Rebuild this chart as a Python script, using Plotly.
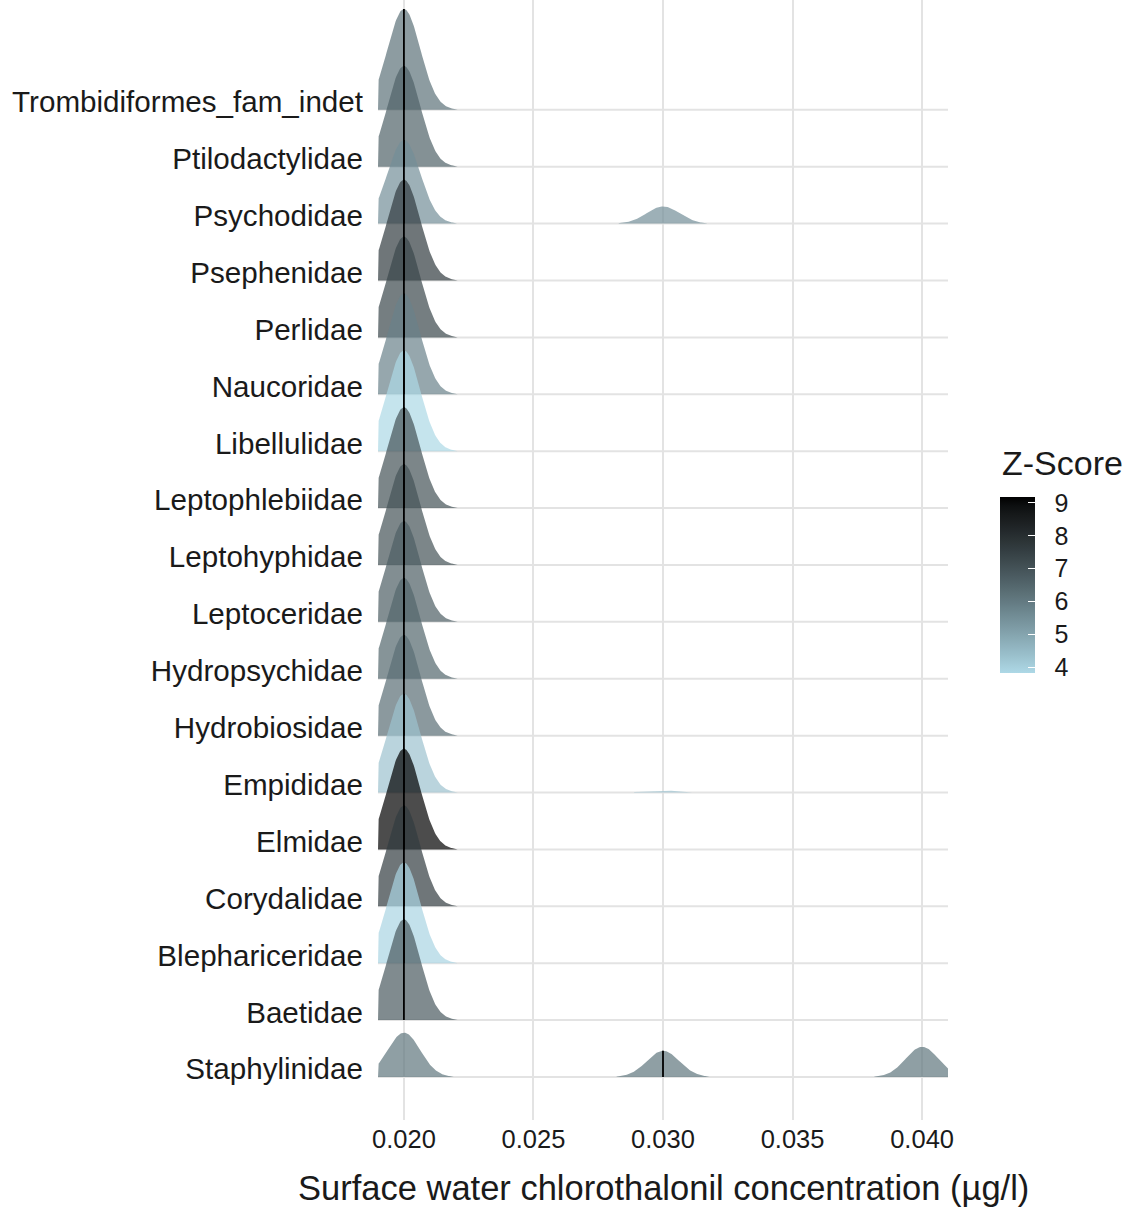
import numpy as np
import plotly.graph_objects as go

# ---------------- data ----------------
families = ["Staphylinidae", "Baetidae", "Blephariceridae", "Corydalidae", "Elmidae",
            "Empididae", "Hydrobiosidae", "Hydropsychidae", "Leptoceridae", "Leptohyphidae",
            "Leptophlebiidae", "Libellulidae", "Naucoridae", "Perlidae", "Psephenidae",
            "Psychodidae", "Ptilodactylidae", "Trombidiformes_fam_indet"]
z_scores = [6.1, 6.8, 3.9, 7.6, 9.18, 4.3, 6.3, 6.5, 6.7, 7.0,
            7.0, 3.82, 5.8, 7.3, 7.6, 5.5, 6.6, 6.2]
conc_levels = [0.02, 0.03, 0.04]
share_020 = [0.44, 1, 1, 1, 1, 0.98, 1, 1, 1, 1, 1, 1, 1, 1, 1, 0.83, 1, 1]
share_030 = [0.26, 0, 0, 0, 0, 0.02, 0, 0, 0, 0, 0, 0, 0, 0, 0, 0.17, 0, 0]
share_040 = [0.30, 0, 0, 0, 0, 0, 0, 0, 0, 0, 0, 0, 0, 0, 0, 0, 0, 0]
x_ticks = [0.020, 0.025, 0.030, 0.035, 0.040]
z_ticks = [4, 5, 6, 7, 8, 9]

# ---------------- style ----------------
X_MIN, X_MAX = 0.019, 0.041
BANDWIDTH = 0.00063
PEAK_HEIGHT = 1.77
ALPHA = 0.7
LOW = (173, 216, 230)   # lightblue
HIGH = (0, 0, 0)        # black
FONT = "Liberation Sans, Arial, sans-serif"
TXT = "#1a1a1a"

# Lab interpolation (like ggplot's gradient)
M = np.array([[0.4124564, 0.3575761, 0.1804375],
              [0.2126729, 0.7151522, 0.0721750],
              [0.0193339, 0.1191920, 0.9503041]])
Minv = np.linalg.inv(M)
WHITE = np.array([0.95047, 1.0, 1.08883])


def rgb_to_lab(rgb):
    c = np.array(rgb) / 255.0
    lin = np.where(c <= 0.04045, c / 12.92, ((c + 0.055) / 1.055) ** 2.4)
    xyz = M @ lin / WHITE
    f = np.where(xyz > 216 / 24389, np.cbrt(xyz), (24389 / 27 * xyz + 16) / 116)
    return np.array([116 * f[1] - 16, 500 * (f[0] - f[1]), 200 * (f[1] - f[2])])


def lab_to_rgb(lab):
    L, a, b = lab
    fy = (L + 16) / 116
    fx = fy + a / 500
    fz = fy - b / 200
    f = np.array([fx, fy, fz])
    xyz = np.where(f ** 3 > 216 / 24389, f ** 3, (116 * f - 16) / (24389 / 27)) * WHITE
    lin = np.clip(Minv @ xyz, 0, 1)
    c = np.where(lin <= 0.0031308, 12.92 * lin, 1.055 * lin ** (1 / 2.4) - 0.055)
    return tuple(int(round(v * 255)) for v in np.clip(c, 0, 1))


LAB_LOW, LAB_HIGH = rgb_to_lab(LOW), rgb_to_lab(HIGH)
zmin, zmax = min(z_scores), max(z_scores)


def z_color(z):
    t = (z - zmin) / (zmax - zmin)
    return lab_to_rgb(LAB_LOW + t * (LAB_HIGH - LAB_LOW))


colorscale = []
for t in np.linspace(0, 1, 21):
    r, g, b = lab_to_rgb(LAB_LOW + t * (LAB_HIGH - LAB_LOW))
    colorscale.append([float(t), f"rgb({r},{g},{b})"])

# ---------------- densities ----------------
xs = np.linspace(X_MIN, X_MAX, 881)
shares = np.array([share_020, share_030, share_040]).T
dens = []
for row in shares:
    d = np.zeros_like(xs)
    for w, c in zip(row, conc_levels):
        d += w * np.exp(-0.5 * ((xs - c) / BANDWIDTH) ** 2)
    dens.append(d)
gmax = max(d.max() for d in dens)


def ridge_polygon(i, d):
    """closed polygons over the x-stretches where the ridge is visible"""
    mask = d / gmax > 0.004
    px, py = [], []
    k = 0
    while k < len(xs):
        if mask[k]:
            j = k
            while j + 1 < len(xs) and mask[j + 1]:
                j += 1
            seg_x = xs[k:j + 1]
            seg_y = i + PEAK_HEIGHT * d[k:j + 1] / gmax
            px += [seg_x[0]] + list(seg_x) + [seg_x[-1], seg_x[0], None]
            py += [i] + list(seg_y) + [i, i, None]
            k = j + 1
        else:
            k += 1
    return px, py


fig = go.Figure()
n = len(families)
for i in reversed(range(n)):
    px, py = ridge_polygon(i, dens[i])
    r, g, b = z_color(z_scores[i])
    fig.add_trace(go.Scatter(
        x=px, y=py, fill="toself", mode="lines", line=dict(width=0),
        fillcolor=f"rgba({r},{g},{b},{ALPHA})",
        hoverinfo="skip", showlegend=False))

# median lines
for i in range(n):
    row = shares[i]
    cum = np.cumsum(row) / row.sum()
    med = conc_levels[int(np.searchsorted(cum, 0.5))]
    h = sum(w * np.exp(-0.5 * ((med - c) / BANDWIDTH) ** 2) for w, c in zip(row, conc_levels))
    fig.add_trace(go.Scatter(x=[med, med], y=[i, i + PEAK_HEIGHT * h / gmax],
                             mode="lines", line=dict(color="black", width=1.8),
                             hoverinfo="skip", showlegend=False))

# colorbar (labels) + overlay colorbar (white inside ticks)
cb_common = dict(thicknessmode="pixels", thickness=35,
                 lenmode="pixels", len=176,
                 x=(1000 - 378) / 570, xanchor="left", xpad=0,
                 y=(1120 - 585) / 1120, yanchor="middle", ypad=0,
                 outlinewidth=0, tickvals=z_ticks)
fig.add_trace(go.Scatter(
    x=[0.03] * n, y=[0] * n, mode="markers",
    marker=dict(size=0.1, opacity=0, color=z_scores, colorscale=colorscale,
                cmin=zmin, cmax=zmax, showscale=True,
                colorbar=dict(**cb_common, ticks="outside", ticklen=15,
                              tickcolor="rgba(0,0,0,0)",
                              tickfont=dict(size=25, color=TXT, family=FONT))),
    hoverinfo="skip", showlegend=False))
fig.add_trace(go.Scatter(
    x=[0.03] * n, y=[0] * n, mode="markers",
    marker=dict(size=0.1, opacity=0, color=z_scores, colorscale=colorscale,
                cmin=zmin, cmax=zmax, showscale=True,
                colorbar=dict(**cb_common, ticks="inside", ticklen=7,
                              tickcolor="white", tickwidth=1.2,
                              showticklabels=False)),
    hoverinfo="skip", showlegend=False))

# horizontal baseline gridlines
shapes = [dict(type="line", xref="x", yref="y", x0=X_MIN, x1=X_MAX, y0=i, y1=i,
               line=dict(color="#e3e3e3", width=2), layer="below") for i in range(n)]

fig.update_layout(
    width=1130, height=1208,
    margin=dict(l=378, r=182, t=0, b=88),
    paper_bgcolor="white", plot_bgcolor="white",
    shapes=shapes,
    font=dict(family=FONT, color=TXT),
    xaxis=dict(range=[X_MIN, X_MAX], tickvals=x_ticks, tickformat=".3f",
               showgrid=True, gridcolor="#e3e3e3", gridwidth=2,
               zeroline=False, showline=False, ticks="",
               ticklabelstandoff=1,
               tickfont=dict(size=25.5, color=TXT)),
    yaxis=dict(range=[-0.756, 18.93], tickvals=[i + 0.14 for i in range(n)],
               ticktext=families, showgrid=False, zeroline=False, showline=False,
               ticks="", ticklabelstandoff=14,
               tickfont=dict(size=29.6, color=TXT)),
    annotations=[
        dict(text="Surface water chlorothalonil concentration (µg/l)",
             xref="paper", yref="paper", x=0.5, y=(1120 - 1188) / 1120,
             xanchor="center", yanchor="middle", showarrow=False,
             font=dict(size=34.5, color=TXT)),
        dict(text="Z-Score", xref="paper", yref="paper",
             x=(1000 - 378) / 570, y=(1120 - 463) / 1120,
             xanchor="left", yanchor="middle", showarrow=False,
             font=dict(size=34, color=TXT)),
    ],
)

fig.write_html("out.html")
